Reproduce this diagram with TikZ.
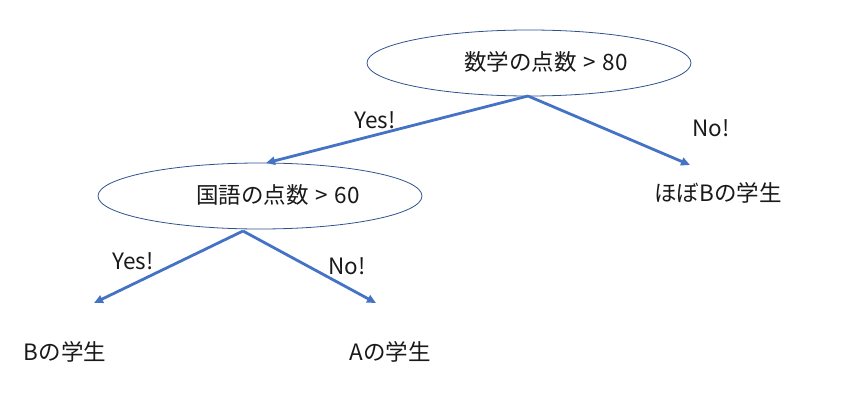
\documentclass[tikz,border=0pt]{standalone}
\usepackage{fontspec}
\setmainfont{Noto Sans CJK JP}
\usetikzlibrary{arrows.meta,shapes.geometric}
\definecolor{lineblue}{HTML}{4472C4}
\definecolor{edgeblue}{HTML}{2F528F}
\begin{document}
\begin{tikzpicture}[x=1pt,y=-1pt,
  cond/.style={draw=edgeblue,line width=0.8pt,ellipse,minimum width=324pt,minimum height=66pt,inner sep=0pt},
  txt/.style={font=\fontsize{22.5}{26}\selectfont,text=black!90,inner sep=0pt},
  arr/.style={draw=lineblue,line width=2.8pt,-{Triangle[length=9pt,width=8pt]}}]
\useasboundingbox (0,0) rectangle (845,412);
\node[cond] (e1) at (529,63) {};
\node[txt] (t1) at (546,62) {数学の点数\hspace{0.3em}>\hspace{0.3em}80};
\node[cond] (e2) at (260,196) {};
\node[txt] (t2) at (278,195) {国語の点数\hspace{0.3em}>\hspace{0.3em}60};
\coordinate (s1) at (528,96);
\coordinate (s2) at (243,231);
\coordinate (a1) at (266,163);
\coordinate (a2) at (690,165);
\coordinate (a3) at (94,303);
\coordinate (a4) at (376,303);
\draw[arr] (s1) -- (a1);
\draw[arr] (s1) -- (a2);
\draw[arr] (s2) -- (a3);
\draw[arr] (s2) -- (a4);
\node[txt] (y1) at (375,120) {Yes!};
\node[txt] (n1) at (711,128) {No!};
\node[txt] (l1) at (718,193) {ほぼBの学生};
\node[txt] (y2) at (133,261) {Yes!};
\node[txt] (n2) at (347,266) {No!};
\node[txt] (l2) at (65,352) {Bの学生};
\node[txt] (l3) at (390,352) {Aの学生};
\end{tikzpicture}
\end{document}
